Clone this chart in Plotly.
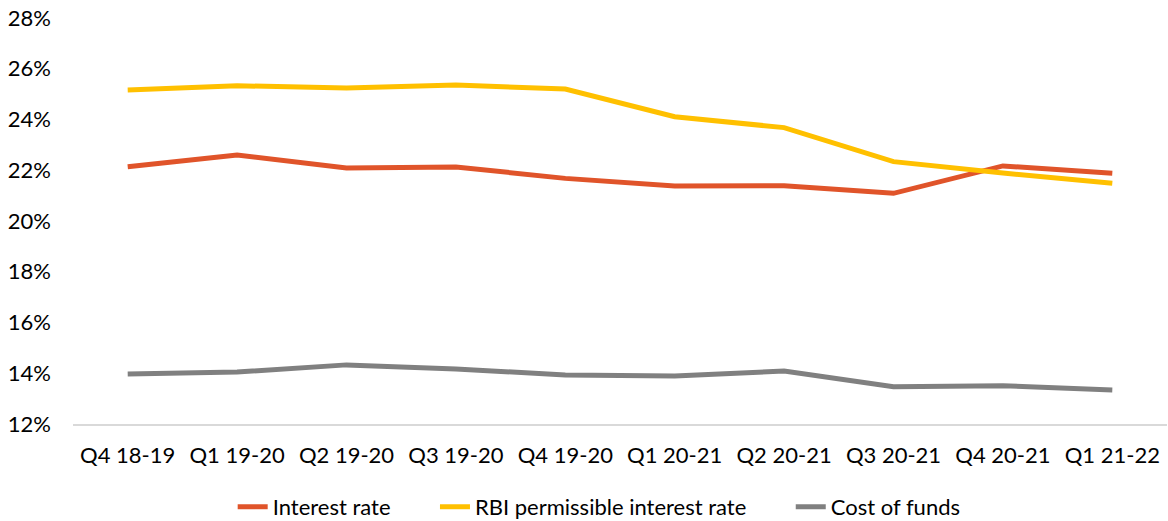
import plotly.graph_objects as go

quarters = ["Q4 18-19", "Q1 19-20", "Q2 19-20", "Q3 19-20", "Q4 19-20",
            "Q1 20-21", "Q2 20-21", "Q3 20-21", "Q4 20-21", "Q1 21-22"]
interest_rate = [22.14, 22.60, 22.09, 22.13, 21.68, 21.38, 21.39, 21.09, 22.17, 21.88]
rbi_rate = [25.16, 25.33, 25.24, 25.36, 25.20, 24.11, 23.68, 22.34, 21.89, 21.49]
cost_of_funds = [13.97, 14.05, 14.33, 14.17, 13.93, 13.89, 14.09, 13.47, 13.51, 13.34]

pad = "\u00a0" * 7
series = [
    ("Interest rate" + pad, interest_rate, "#E0542A"),
    ("RBI permissible interest rate" + pad, rbi_rate, "#FFC000"),
    ("Cost of funds", cost_of_funds, "#808080"),
]

fig = go.Figure()
for name, vals, color in series:
    fig.add_trace(go.Scatter(x=quarters, y=vals, mode="lines", name=name,
                             line=dict(color=color, width=5)))

font_family = "Lato, 'Open Sans', sans-serif"
fig.update_layout(
    width=1168, height=521,
    margin=dict(l=73, r=1, t=18, b=97),
    paper_bgcolor="white", plot_bgcolor="white",
    font=dict(family=font_family, size=22, color="#000000"),
    showlegend=True,
    legend=dict(orientation="h", x=0.513, xanchor="center", xref="container",
                y=0.027, yanchor="middle", yref="container",
                font=dict(size=22), itemwidth=30, traceorder="normal"),
    xaxis=dict(type="category", range=[-0.5, 9.5], showgrid=False, zeroline=False,
               showline=True, linecolor="#D9D9D9", linewidth=1.5, ticks="",
               tickfont=dict(size=22), ticklabelstandoff=11, automargin=False),
    yaxis=dict(range=[12, 28], dtick=2, ticksuffix="%", showgrid=False,
               zeroline=False, showline=False, ticks="", tickfont=dict(size=22),
               ticklabelstandoff=21, automargin=False),
)

fig.write_html("out.html")
